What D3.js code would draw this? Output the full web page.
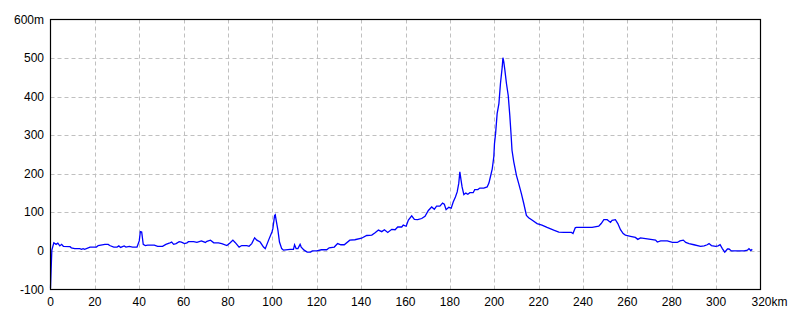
<!DOCTYPE html>
<html><head><meta charset="utf-8">
<script src="https://cdn.jsdelivr.net/npm/d3@7"></script>
<style>
html,body{margin:0;padding:0;background:#fff;}
svg{display:block;}
text{font-family:"Liberation Sans Narrow","Liberation Sans",Arial,sans-serif;font-size:12px;fill:#000;}
</style></head>
<body>
<svg id="chart" width="800" height="320"></svg>
<script>
const distanceKm = [0,0.3,0.6,1.5,2.5,3.3,4.2,5,5.8,8.8,9.4,10.9,13.2,14,14.7,15.4,17.8,20.7,21.5,24.5,26,26.7,28.5,30,30.8,31.6,33.2,34,35.5,37,39,40,40.5,41.1,41.8,42.7,43.8,46.8,48.3,50.5,52,53.5,54.6,55.5,56.6,58,59,60.4,61.5,62.2,64.5,66,68,69.8,70.5,72.1,73.6,75.7,77.2,79.5,81,82.2,83.2,85,86.2,88.5,89.5,90.7,92,93,94.5,96,96.8,98.3,99.8,100.2,101,101.3,101.7,102.5,103.2,104.2,105,108,109.5,110,110.7,111.5,112.5,113,114.3,115.7,117.2,118,120,122.1,124.5,125.6,127.9,129.4,130.9,132.4,134.9,137.2,140.2,142.5,144.8,146.3,147.8,149.3,150.5,152,153.8,155.3,156.5,158.3,159,160.3,161.3,162.8,164,165.5,167.3,168.8,170.3,171.8,173,174,175.5,176.7,177.5,178.3,179.5,180.6,181.5,182.5,183.3,184,184.5,185,185.5,186.3,187.2,188.1,189,190.5,191.2,192.6,193.5,195.3,196.8,197.6,198.3,199.1,199.8,200.1,200.6,201.3,202.1,202.8,203.6,203.9,204.3,204.8,205.5,206.3,207,207.6,208,208.8,210,211,212.2,213.3,214.5,215.5,217,219.3,221.5,223.8,226.8,229.1,231.3,234.8,235.5,236.5,237,244.1,247.1,248.2,249.4,250.9,252.4,253.1,254.6,255.7,256.9,258.1,259.1,261.4,263.6,264.7,265.9,268.2,270.5,272.7,273.5,275,278,280.3,282.5,283.7,285.2,286.3,287.8,290,293,294.6,296,296.8,297.9,299.8,300.9,301.8,302.8,303.9,305.1,305.8,306.9,312.6,314.1,314.8,315.6,316.3];
const elevationM = [-97,-45,2,21,17,20,13,17,12,11,8,6,6,4,6,4,10,10,14,17,17,14,10,10,13,9,13,10,12,10,10,26,50,49,17,14,15,15,12,12,17,20,23,17,19,24,23,19,21,24,24,22,26,22,25,28,21,21,19,14,21,28,22,10,14,14,12,19,34,28,23,10,6,28,49,57,92,94,80,54,23,6,2,4,4,16,6,6,17,10,2,-3,-3,0,0,3,3,8,10,19,16,16,28,29,33,40,41,47,54,50,55,48,56,55,62,62,67,64,80,91,82,81,84,90,105,114,108,116,116,124,121,107,113,111,127,140,153,175,205,185,166,146,150,147,151,151,159,159,163,163,166,176,193,213,244,278,304,356,382,434,477,501,490,468,434,403,352,300,261,231,196,175,149,123,92,86,80,71,67,61,54,49,48,48,45,60,61,61,64,71,81,81,74,79,81,71,55,45,41,38,35,30,34,32,30,28,23,26,26,22,22,26,28,22,19,16,12,13,16,19,14,12,13,16,6,-3,5,5,0,0,2,6,1,4];
const xTicks = [0,20,40,60,80,100,120,140,160,180,200,220,240,260,280,300,320];
const xTickLabels = ["0","20","40","60","80","100","120","140","160","180","200","220","240","260","280","300","320km"];
const yTicks = [-100,0,100,200,300,400,500,600];
const yTickLabels = ["-100","0","100","200","300","400","500","600m"];

const svg = d3.select("#chart");
const L = 50.5, R = 760.5, T = 19.5, B = 289.5;
const x = d3.scaleLinear().domain([0,320]).range([L,R]);
const y = d3.scaleLinear().domain([-100,600]).range([B,T]);

// grid
const g = svg.append("g");
g.selectAll("line.vx").data(xTicks.filter(d=>d>0&&d<320)).enter().append("line")
  .attr("x1",d=>Math.round(x(d))+0.5).attr("x2",d=>Math.round(x(d))+0.5)
  .attr("y1",T).attr("y2",B)
  .attr("stroke","#c0c0c0").attr("stroke-width",1).attr("stroke-dasharray","4,3");
g.selectAll("line.hy").data(yTicks.filter(d=>d>-100&&d<600)).enter().append("line")
  .attr("y1",d=>Math.round(y(d))+0.5).attr("y2",d=>Math.round(y(d))+0.5)
  .attr("x1",L).attr("x2",R)
  .attr("stroke","#c0c0c0").attr("stroke-width",1).attr("stroke-dasharray","4,3");

// line
const pts = distanceKm.map((d,i)=>[d,elevationM[i]]);
svg.append("path").datum(pts)
  .attr("d", d3.line().x(d=>x(d[0])).y(d=>y(d[1])))
  .attr("fill","none").attr("stroke","#0000ff").attr("stroke-width",1.3);

// frame
svg.append("rect").attr("x",L).attr("y",T).attr("width",R-L).attr("height",B-T)
  .attr("fill","none").attr("stroke","#000").attr("stroke-width",1.2);

// x labels
svg.selectAll("text.xl").data(xTicks).enter().append("text")
  .attr("x",(d,i)=> i===xTicks.length-1 ? x(d)-9 : x(d))
  .attr("y",306)
  .attr("text-anchor",(d,i)=> i===xTicks.length-1 ? "start" : "middle")
  .text((d,i)=>xTickLabels[i]);

// y labels
svg.selectAll("text.yl").data(yTicks).enter().append("text")
  .attr("x",44).attr("y",d=>y(d)+4)
  .attr("text-anchor","end")
  .text((d,i)=>yTickLabels[i]);
</script>
</body></html>
